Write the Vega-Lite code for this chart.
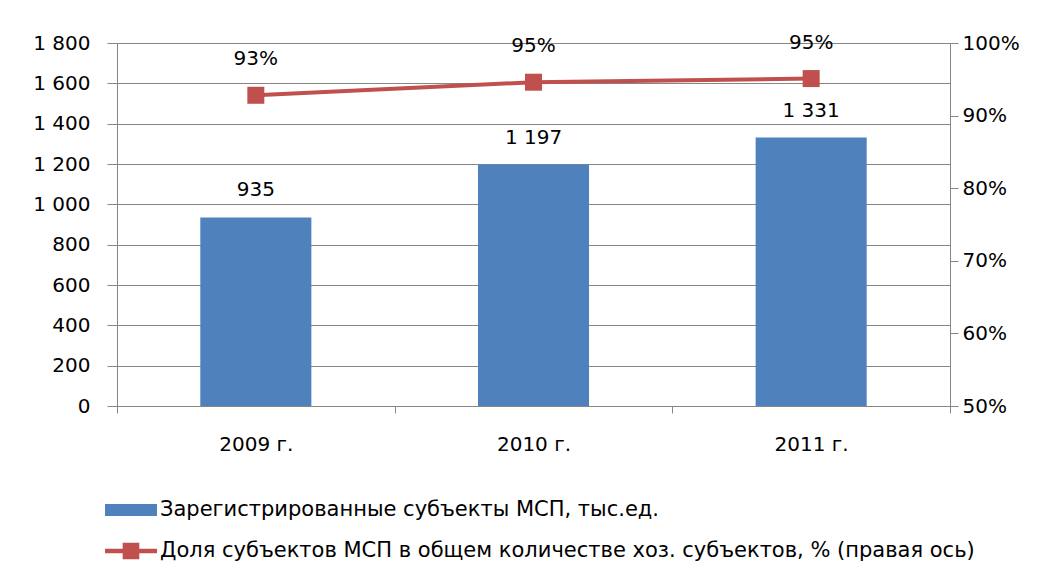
{
  "$schema": "https://vega.github.io/schema/vega-lite/v6.json",
  "width": 833,
  "height": 363,
  "autosize": {"type": "none"},
  "padding": {"left": 117, "top": 43, "right": 89, "bottom": 175},
  "background": "white",
  "config": {
    "locale": {"number": {"decimal": ",", "thousands": " ", "grouping": [3], "currency": ["", ""]}},
    "font": "DejaVu Sans",
    "view": {"stroke": null},
    "axis": {
      "domainColor": "#868686",
      "tickColor": "#868686",
      "gridColor": "#868686",
      "labelColor": "#000000",
      "labelFont": "DejaVu Sans",
      "labelFontSize": 20,
      "title": null
    },
    "legend": {
      "labelFont": "DejaVu Sans",
      "labelFontSize": 21,
      "labelColor": "#000000",
      "labelLimit": 0,
      "padding": 0,
      "offset": 0,
      "title": null
    }
  },
  "data": {
    "values": [
      {"year": "2009 г.", "count": 935, "share": 0.928, "bar_series": "Зарегистрированные субъекты МСП, тыс.ед.", "line_series": "Доля субъектов МСП в общем количестве хоз. субъектов, % (правая ось)"},
      {"year": "2010 г.", "count": 1197, "share": 0.946, "bar_series": "Зарегистрированные субъекты МСП, тыс.ед.", "line_series": "Доля субъектов МСП в общем количестве хоз. субъектов, % (правая ось)"},
      {"year": "2011 г.", "count": 1331, "share": 0.951, "bar_series": "Зарегистрированные субъекты МСП, тыс.ед.", "line_series": "Доля субъектов МСП в общем количестве хоз. субъектов, % (правая ось)"}
    ]
  },
  "encoding": {
    "x": {
      "field": "year",
      "type": "nominal",
      "sort": null,
      "scale": {"paddingInner": 0, "paddingOuter": 0},
      "axis": {"labelAngle": 0, "tickBand": "extent", "tickSize": 7, "labelPadding": 21, "domain": true}
    }
  },
  "layer": [
    {
      "encoding": {
        "y": {
          "field": "count",
          "type": "quantitative",
          "scale": {"domain": [0, 1800], "nice": false},
          "axis": {"orient": "left", "values": [0, 200, 400, 600, 800, 1000, 1200, 1400, 1600, 1800], "format": ",d", "tickSize": 10, "labelPadding": 17, "grid": true}
        }
      },
      "layer": [
        {
          "mark": {"type": "bar", "width": {"band": 0.4}},
          "encoding": {
            "color": {
              "field": "bar_series",
              "type": "nominal",
              "scale": {"range": ["#4F81BD"]},
              "legend": {
                "orient": "none",
                "legendX": -12,
                "legendY": 441,
                "symbolType": "M-1,-0.23L1,-0.23L1,0.23L-1,0.23Z",
                "symbolSize": 2704,
                "symbolStrokeWidth": 0,
                "labelOffset": 3
              }
            }
          }
        },
        {
          "mark": {"type": "text", "dy": -27, "fontSize": 20, "color": "#000000"},
          "encoding": {"text": {"field": "count", "type": "quantitative", "format": ",d"}}
        }
      ]
    },
    {
      "encoding": {
        "y": {
          "field": "share",
          "type": "quantitative",
          "scale": {"domain": [0.5, 1], "nice": false, "zero": false},
          "axis": {"orient": "right", "values": [0.5, 0.6, 0.7, 0.8, 0.9, 1.0], "format": ".0%", "tickSize": 8, "labelPadding": 4, "grid": false}
        }
      },
      "layer": [
        {
          "mark": {"type": "line", "color": "#C0504D", "strokeWidth": 4}
        },
        {
          "mark": {"type": "point", "shape": "square", "filled": true, "size": 289, "opacity": 1},
          "encoding": {
            "color": {
              "field": "line_series",
              "type": "nominal",
              "scale": {"range": ["#C0504D"]},
              "legend": {
                "orient": "none",
                "legendX": -12,
                "legendY": 482,
                "symbolType": "M-1,-0.09L1,-0.09L1,0.09L-1,0.09Z M-0.32,-0.32L0.32,-0.32L0.32,0.32L-0.32,0.32Z",
                "symbolSize": 2704,
                "symbolStrokeWidth": 0,
                "symbolOpacity": 1,
                "labelOffset": 3
              }
            }
          }
        },
        {
          "mark": {"type": "text", "dy": -36, "fontSize": 20, "color": "#000000"},
          "encoding": {"text": {"field": "share", "type": "quantitative", "format": ".0%"}}
        }
      ]
    }
  ],
  "resolve": {"scale": {"y": "independent", "color": "independent"}}
}
